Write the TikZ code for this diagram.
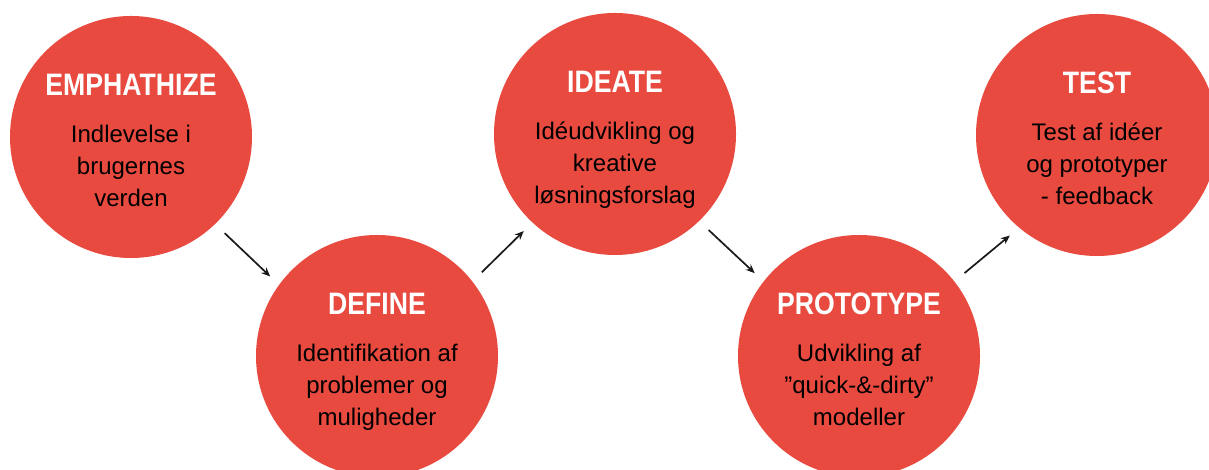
\documentclass[tikz,border=0pt]{standalone}
\usepackage{fontspec}
\setmainfont{Liberation Sans}
\newfontface\titlefont[FakeStretch=0.86]{Liberation Sans Bold}
\usetikzlibrary{arrows.meta}

\definecolor{phasered}{RGB}{232,74,63}
\tikzset{
	phase/.style={circle, fill=phasered, minimum size=242pt, inner sep=0pt},
	phasetext/.style={anchor=north, align=center, inner sep=0pt, text=black, font=\fontsize{24}{32}\selectfont},
	flow/.style={-{Stealth[length=9pt,width=7.5pt]}, line width=1.7pt, draw=black!90, shorten <=13pt, shorten >=12pt}
}
\newcommand{\phasetitle}[1]{{\titlefont\fontsize{31}{32}\selectfont\color{white}#1}\\[15pt]}

\begin{document}
\begin{tikzpicture}[x=1pt,y=1pt]
	\useasboundingbox (0,0) rectangle (1209,470);
	\clip (0,0) rectangle (1209,470);
	
	%circles
	\node[phase] (emp) at (131,333) {};
	\node[phase] (def) at (377,114) {};
	\node[phase] (ide) at (615,336) {};
	\node[phase] (pro) at (859,114) {};
	\node[phase] (tes) at (1097,335) {};
	
	%texts inside circles
	\node[phasetext] (emp-t) at ([yshift=63pt]emp.center) {\phasetitle{EMPHATHIZE}Indlevelse i\\brugernes\\verden};
	\node[phasetext] (def-t) at ([yshift=63pt]def.center) {\phasetitle{DEFINE}Identifikation af\\problemer og\\muligheder};
	\node[phasetext] (ide-t) at ([yshift=63pt]ide.center) {\phasetitle{IDEATE}Idéudvikling og\\kreative\\løsningsforslag};
	\node[phasetext] (pro-t) at ([yshift=63pt]pro.center) {\phasetitle{PROTOTYPE}Udvikling af\\”quick-\&-dirty”\\modeller};
	\node[phasetext] (tes-t) at ([yshift=63pt]tes.center) {\phasetitle{TEST}Test af idéer\\og prototyper\\- feedback};
	
	%arrows between circles
	\draw[flow] (emp.-46) -- (def.144);
	\draw[flow] (def.38) -- (ide.-133);
	\draw[flow] (ide.-46) -- (pro.142);
	\draw[flow] (pro.38) -- (tes.-130);
\end{tikzpicture}
\end{document}
